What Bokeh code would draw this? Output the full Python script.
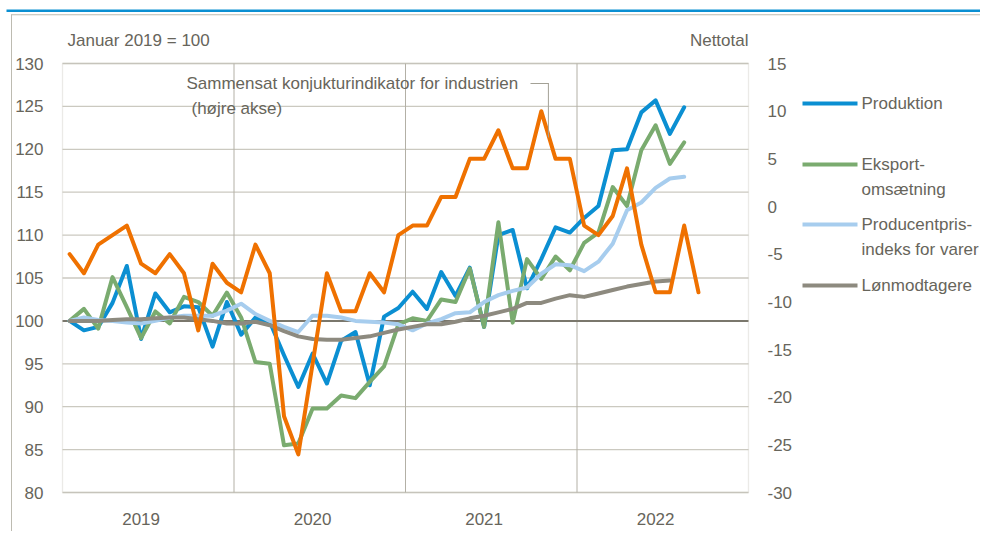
from bokeh.plotting import figure
from bokeh.models import Range1d, Label, BoxAnnotation, ColumnDataSource
from bokeh.core.properties import value
from bokeh.embed import file_html
from bokeh.resources import INLINE

# ---------------- data ----------------
years = ["2019", "2020", "2021", "2022"]

produktion = [100, 98.9, 99.3, 102.1, 106.4, 97.9, 103.2, 101.0, 101.7, 101.6, 97.0, 102.2,
              98.4, 100.4, 99.9, 96.0, 92.3, 96.2, 92.7, 97.7, 98.7, 92.5, 100.5, 101.5,
              103.4, 101.4, 105.7, 102.9, 106.2, 99.3, 110.0, 110.6, 103.8, 107.2, 110.9, 110.3,
              112.0, 113.4, 119.9, 120.0, 124.3, 125.7, 121.8, 124.9]

eksport = [100, 101.4, 99.1, 105.1, 101.6, 98.0, 101.1, 99.7, 102.8, 102.2, 100.6, 103.3,
           100.4, 95.2, 95.0, 85.5, 85.7, 89.8, 89.8, 91.3, 91.0, 92.9, 94.7, 99.6,
           100.3, 100.0, 102.5, 102.2, 106.1, 99.3, 111.5, 99.8, 107.2, 104.9, 107.5, 105.9,
           109.1, 110.3, 115.6, 113.4, 119.9, 122.8, 118.3, 120.8]

producentpris = [100.0, 100.4, 100.1, 100.0, 99.8, 99.7, 100.0, 100.4, 100.6, 100.6, 100.6, 101.2,
                 102.0, 100.8, 100.0, 99.3, 98.7, 100.6, 100.6, 100.4, 100.0, 99.9, 99.8, 99.6,
                 98.9, 99.7, 100.2, 100.9, 101.0, 102.2, 103.0, 103.5, 103.9, 105.5, 106.6, 106.5,
                 105.8, 106.9, 109.0, 112.9, 113.8, 115.5, 116.6, 116.8]

loenmodtagere = [100.0, 100.0, 100.0, 100.1, 100.2, 100.2, 100.3, 100.4, 100.4, 100.2, 100.0, 99.7,
                 99.7, 99.9, 99.5, 98.8, 98.2, 97.9, 97.8, 97.8, 98.0, 98.2, 98.6, 99.0,
                 99.3, 99.6, 99.6, 99.9, 100.3, 100.6, 101.0, 101.4, 102.1, 102.1, 102.6, 103.0,
                 102.8, 103.2, 103.6, 104.0, 104.3, 104.6, 104.7]

konjunktur = [-5, -7, -4, -3, -2, -6, -7, -5, -7, -13, -6, -8,
              -9, -4, -7, -22, -26, -16.5, -7, -11, -11, -7, -9, -3,
              -2, -2, 1, 1, 5, 5, 8, 4, 4, 10, 5, 5,
              -2, -3, -1, 4, -4, -9, -9, -2, -9]

left_ticks = [80, 85, 90, 95, 100, 105, 110, 115, 120, 125, 130]
right_ticks = [-30, -25, -20, -15, -10, -5, 0, 5, 10, 15]

# ---------------- style ----------------
FONT = "Liberation Sans"
TXT = "#67655b"
FS = "17px"
C_BLUE = "#0b8fd2"
C_GREEN = "#7aab6f"
C_LBLUE = "#a7cdee"
C_GREY = "#8d8a7f"
C_ORANGE = "#ef7100"
C_GRID = "#cbc9c0"
C_VGRID = "#b3b0a6"
C_FRAME = "#bdbbb1"

# ---------------- layout (canvas pixels) ----------------
W, H = 980, 531
PL, PR, PT, PB = 62, 748, 63, 492          # plot area
NM = 12 * len(years)                         # months on the axis
L0, L1 = left_ticks[0], left_ticks[-1]
R0, R1 = right_ticks[0], right_ticks[-1]

xpx = (PR - PL) / NM
ypx = (PB - PT) / (L1 - L0)
rpx = (PB - PT) / (R1 - R0)
XA, XB = -0.5, NM - 0.5

p = figure(width=W, height=H, output_backend="svg", toolbar_location=None,
           x_range=Range1d(XA - PL / xpx, XB + (W - PR) / xpx),
           y_range=Range1d(L0 - (H - PB) / ypx, L1 + PT / ypx),
           x_axis_location=None, y_axis_location=None, min_border=0,
           outline_line_color=None, background_fill_color="white",
           border_fill_color="white")
p.extra_y_ranges = {"right": Range1d(R0 - (H - PB) / rpx, R1 + PT / rpx)}
p.xgrid.visible = False
p.ygrid.visible = False

# grid lines (through data scales)
p.segment(x0=[XA] * len(left_ticks), x1=[XB] * len(left_ticks), y0=left_ticks, y1=left_ticks,
          line_color=C_GRID, line_width=1.3)
ybounds = [12 * k + 11.5 for k in range(len(years) - 1)]
p.segment(x0=ybounds, x1=ybounds, y0=[L0] * len(ybounds), y1=[L1] * len(ybounds),
          line_color=C_VGRID, line_width=1)
p.add_layout(BoxAnnotation(left=XA, right=XB, bottom=L0, top=L1, fill_alpha=0,
                           line_color=C_FRAME, line_width=1.3))
p.segment(x0=[XA], x1=[XB], y0=[100], y1=[100], line_color="#7a776c", line_width=2)

# tick labels (via scales)
tk = dict(text_font=value(FONT), text_font_size=value(FS), text_color=TXT)
p.text(x=[XA] * len(left_ticks), y=left_ticks, text=[str(t) for t in left_ticks],
       x_offset=-19, text_align="right", text_baseline="middle", **tk)
p.text(x=[XB] * len(right_ticks), y=right_ticks, text=[str(t) for t in right_ticks],
       x_offset=19, text_align="left", text_baseline="middle", y_range_name="right", **tk)
year_pos = [12 * k + 5 for k in range(len(years))]
p.text(x=year_pos, y=[L0] * len(years), text=years, y_offset=26,
       text_align="center", text_baseline="middle", **tk)

# series
def src(vals):
    return ColumnDataSource(dict(x=list(range(len(vals))), y=vals))

lk = dict(line_width=4, line_join="round", line_cap="round")
p.line("x", "y", source=src(produktion), line_color=C_BLUE, **lk)
p.line("x", "y", source=src(eksport), line_color=C_GREEN, **lk)
p.line("x", "y", source=src(producentpris), line_color=C_LBLUE, **lk)
p.line("x", "y", source=src(loenmodtagere), line_color=C_GREY, **lk)
p.line("x", "y", source=src(konjunktur), line_color=C_ORANGE, y_range_name="right", **lk)

# helpers in canvas pixels (y from top)
def box(l, r, t, b, color):
    p.add_layout(BoxAnnotation(left=l, right=r, top=H - t, bottom=H - b,
                               left_units="screen", right_units="screen",
                               top_units="screen", bottom_units="screen",
                               fill_color=color, fill_alpha=1, line_color=None,
                               level="overlay"))

def text(x, y, s, align="left"):
    p.add_layout(Label(x=x, y=H - y, x_units="screen", y_units="screen", text=s,
                       text_font=FONT, text_font_size=FS, text_color=TXT,
                       text_align=align, text_baseline="middle"))

# decorations
box(6, W, 9, 11.5, C_BLUE)
box(10.5, W, 13.8, 14.8, C_FRAME)
box(10.5, 11.5, 14, H, C_FRAME)

text(67, 40, "Januar 2019 = 100")
text(748, 40, "Nettotal", align="right")
text(186, 83, "Sammensat konjukturindikator for industrien")
text(191, 108, "(højre akse)")
box(530, 548, 82.4, 83.4, "#a3a196")
box(547.4, 548.4, 82.4, 137, "#a3a196")

# legend
legend_items = [("Produktion", C_BLUE, 103, []),
                ("Eksport-", C_GREEN, 164, ["omsætning"]),
                ("Producentpris-", C_LBLUE, 224, ["indeks for varer"]),
                ("Lønmodtagere", C_GREY, 285, [])]
for name, col, yy, extra in legend_items:
    box(802, 857, yy - 2, yy + 2, col)
    text(861, yy, name)
    for j, e in enumerate(extra):
        text(861, yy + 25 * (j + 1), e)

open("out.html", "w").write(file_html(p, INLINE))
